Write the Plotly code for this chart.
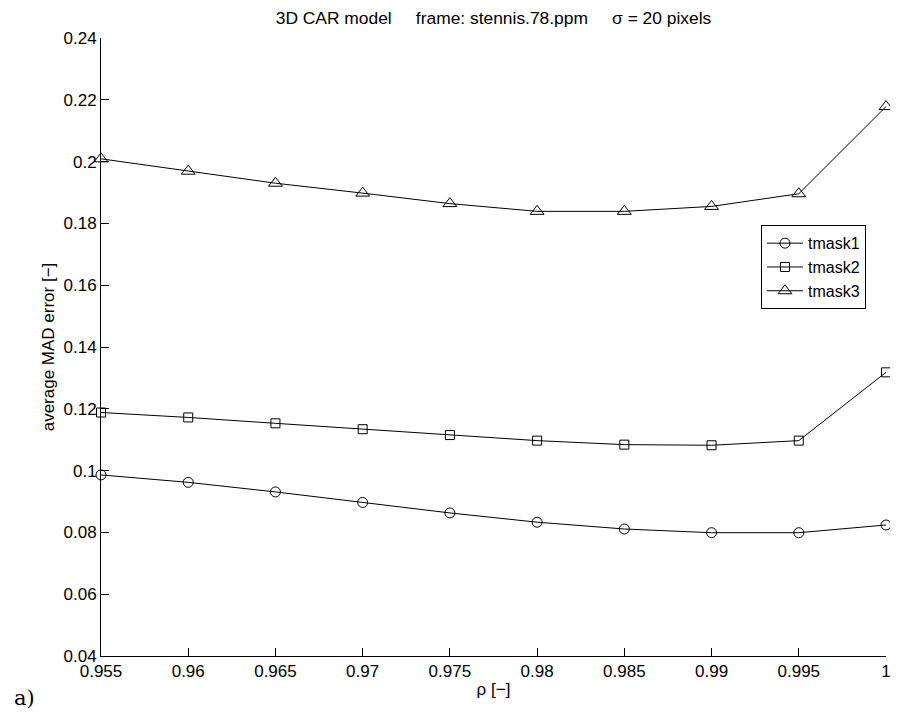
import plotly.graph_objects as go

rho = [0.955, 0.96, 0.965, 0.97, 0.975, 0.98, 0.985, 0.99, 0.995, 1.0]
tmask1 = [0.0986, 0.0962, 0.0931, 0.0897, 0.0863, 0.0833, 0.0811, 0.0799, 0.0799, 0.0824]
tmask2 = [0.1188, 0.1172, 0.1153, 0.1134, 0.1115, 0.1097, 0.1084, 0.1082, 0.1097, 0.1318]
tmask3 = [0.2009, 0.1969, 0.1930, 0.1898, 0.1864, 0.1839, 0.1839, 0.1855, 0.1896, 0.2178]

x_tickvals = [0.955, 0.96, 0.965, 0.97, 0.975, 0.98, 0.985, 0.99, 0.995, 1.0]
x_ticktext = ["0.955", "0.96", "0.965", "0.97", "0.975", "0.98", "0.985", "0.99", "0.995", "1"]
y_tickvals = [0.04, 0.06, 0.08, 0.10, 0.12, 0.14, 0.16, 0.18, 0.20, 0.22, 0.24]
y_ticktext = ["0.04", "0.06", "0.08", "0.1", "0.12", "0.14", "0.16", "0.18", "0.2", "0.22", "0.24"]

FONT = "Liberation Sans, Arial, Helvetica, sans-serif"
FS = 17

fig = go.Figure()
series = [("tmask1", tmask1, "circle-open", 10),
          ("tmask2", tmask2, "square-open", 9),
          ("tmask3", tmask3, "triangle-up-open", 12)]
for name, vals, sym, sz in series:
    fig.add_trace(go.Scatter(
        x=rho, y=vals, name=name, mode="lines+markers",
        line=dict(color="black", width=1),
        marker=dict(symbol=sym, size=sz, color="black", line=dict(color="black", width=1)),
        cliponaxis=False,
    ))

# the page body has an 8px margin, so the figure is 890x706 placed at (8, 8)
fig.update_layout(
    width=890, height=706,
    margin=dict(l=93, r=12, t=30, b=58, autoexpand=False),
    plot_bgcolor="white", paper_bgcolor="white",
    font=dict(family=FONT, size=FS, color="black"),
    title=dict(text="3D CAR model&nbsp;&nbsp;&nbsp;&nbsp;&nbsp;frame: stennis.78.ppm&nbsp;&nbsp;&nbsp;&nbsp;&nbsp;σ = 20 pixels",
               x=0.5, xref="paper", xanchor="center", y=1 - 9.5 / 706, yref="container", yanchor="middle",
               font=dict(family=FONT, size=17.4, color="black")),
    showlegend=True,
    legend=dict(x=0.9745, y=0.697, xanchor="right", yanchor="top",
                bordercolor="black", borderwidth=1, bgcolor="white",
                font=dict(family=FONT, size=16, color="black"),
                tracegroupgap=0, itemwidth=36),
    xaxis=dict(range=[0.955, 1.0], tickvals=x_tickvals, ticktext=x_ticktext, automargin=False,
               showgrid=False, zeroline=False, showline=True, linecolor="black", linewidth=1,
               ticks="inside", ticklen=8, tickcolor="black", tickwidth=1,
               title=dict(text="ρ [−]", standoff=2, font=dict(size=FS)),
               tickfont=dict(size=FS), mirror=False),
    yaxis=dict(range=[0.04, 0.24], tickvals=y_tickvals, ticktext=y_ticktext, automargin=False,
               showgrid=False, zeroline=False, showline=True, linecolor="black", linewidth=1,
               ticks="inside", ticklen=8, tickcolor="black", tickwidth=1,
               title=dict(text="average MAD error [−]", standoff=4, font=dict(size=FS)),
               tickfont=dict(size=FS), mirror=False),
)

fig.add_annotation(text="a)", xref="paper", yref="paper", x=-0.113, y=-0.068,
                   xanchor="left", yanchor="middle", showarrow=False,
                   font=dict(family="DejaVu Serif, Liberation Serif, serif", size=21, color="black"))

fig.write_html("out.html")
